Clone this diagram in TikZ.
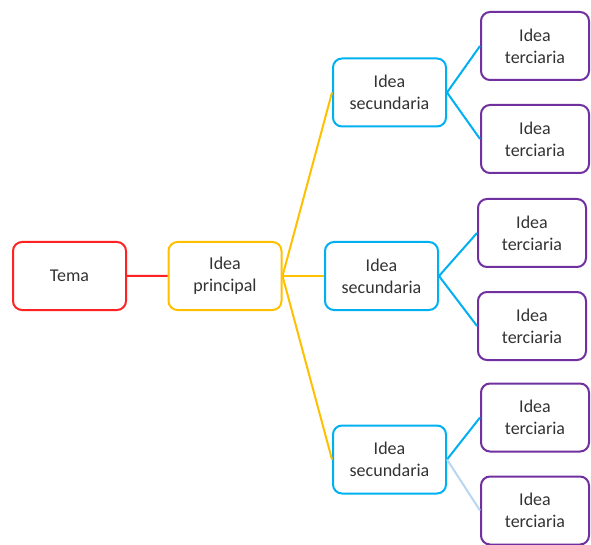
\documentclass[tikz,border=0pt]{standalone}
\usepackage{fontspec}
\setmainfont{Carlito}
\definecolor{rojo}{HTML}{FF2222}
\definecolor{amarillo}{HTML}{FFC000}
\definecolor{azul}{HTML}{00B0F0}
\definecolor{azulclaro}{HTML}{B8D6F0}
\definecolor{morado}{HTML}{7030A0}
\definecolor{texto}{HTML}{333333}
\begin{document}
\begin{tikzpicture}[
x=1pt, y=1pt,
caja/.style={rectangle, rounded corners=9pt, line width=2pt, fill=white, text=texto, align=center, inner sep=0pt, minimum height=68pt, font=\fontsize{18}{22}\selectfont},
tema/.style={caja, draw=rojo, minimum width=113pt},
principal/.style={caja, draw=amarillo, minimum width=113pt},
secundaria/.style={caja, draw=azul, minimum width=113pt},
terciaria/.style={caja, draw=morado, minimum width=108pt},
grow'=right,
edge from parent path={(\tikzparentnode.east) -- (\tikzchildnode.west)},
level 1/.style={level distance=155.5pt, edge from parent/.style={draw=rojo, line width=2pt}},
level 2/.style={level distance=164.5pt, sibling distance=183.5pt, edge from parent/.style={draw=amarillo, line width=2pt}},
level 3/.style={level distance=145.5pt, sibling distance=93pt, edge from parent/.style={draw=azul, line width=2pt}},
]
\useasboundingbox (0,0) rectangle (591,544);
\node[tema] (tema) at (69.5,268) {Tema}
	child {node [principal] (principal) {Idea\\principal}
		child {node [secundaria] (sec1) {Idea\\secundaria}
			child {node [terciaria] (ter1) {Idea\\terciaria}}
			child {node [terciaria] (ter2) {Idea\\terciaria}}
		}
		child {node [secundaria] [xshift=-8pt] (sec2) {Idea\\secundaria}
			child {node [terciaria] [xshift=5pt, yshift=-3.5pt] (ter3) {Idea\\terciaria}}
			child {node [terciaria] [xshift=5pt, yshift=-3.5pt] (ter4) {Idea\\terciaria}}
		}
		child {node [secundaria] (sec3) {Idea\\secundaria}
			child {node [terciaria] [yshift=-4.5pt] (ter5) {Idea\\terciaria}}
			child {node [terciaria] [yshift=-4.5pt] (ter6) {Idea\\terciaria}
				edge from parent [draw=azulclaro] {} }
		}
	};
\end{tikzpicture}
\end{document}
